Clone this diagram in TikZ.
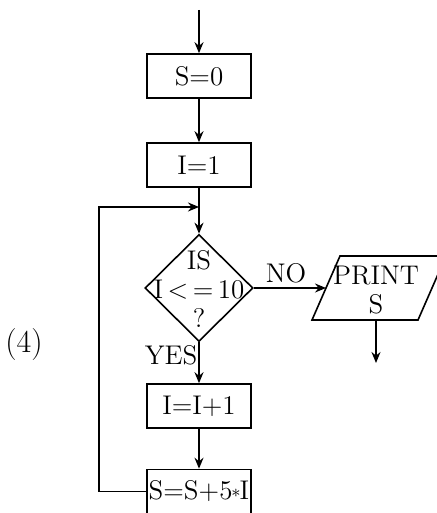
\documentclass[tikz,border=0pt]{standalone}
\usepackage{fontspec}
\usepackage{tikz}
\usetikzlibrary{arrows.meta,shapes.geometric}

\begin{document}
\begin{tikzpicture}[x=0.5pt,y=-0.5pt,line width=0.8pt,
        font=\fontsize{13.5}{14.5}\selectfont,
        b/.style={draw, minimum width=52pt, minimum height=22pt,
                        inner sep=0pt},
        d/.style={diamond, draw, minimum width=54pt,
                        minimum height=53.5pt, inner sep=0pt},
        a/.style={-{Stealth[length=5.5pt,width=4.5pt]}}]
    \useasboundingbox (0,0) rectangle (437,513);
    \coordinate (start) at (199,10);
    \node[b] (s0) at (199,76) {S=0};
    \node[b] (i1) at (199,165) {I=1};
    \node[d] (dec) at (199,288) {};
    \node[align=center, inner sep=0pt] (dectxt) at (199,289)
            {IS\\I\,<\,=\,10\\?};
    % parallelogram for output
    \draw (312,320) -- (340,256) -- (446,256) -- (418,320) -- cycle;
    \coordinate (printin) at (326,288);
    \node[align=center, inner sep=0pt] (print) at (376,290)
            {PRINT\\S};
    \coordinate (printout) at (376,320);
    \node[b] (inc) at (199,406) {I=I+1};
    \node[b] (sum) at (199,491.5)
            {S=S+5\kern-0.5pt\raisebox{1pt}{\small$*$}\kern-0.5pt I};
    \node (yes) at (171,355) {YES};
    \node (no) at (286,273) {NO};
    \node[font=\fontsize{16}{18}\selectfont] (lbl) at (24,345) {(4)};
    \coordinate (out) at (376,363);
    \coordinate (loop) at (99,207);
    \coordinate (join) at (199,207);
    % main flow
    \draw[a] (start) -- (s0);
    \draw[a] (s0) -- (i1);
    \draw[a] (i1) -- (dec);
    \draw[a] (dec) -- (inc);
    \draw[a] (inc) -- (sum);
    \draw[a] (dec.east) -- (printin);
    \draw[a] (printout) -- (out);
    % loop back
    \draw[a] (sum.west) -| (loop) -- (join);
\end{tikzpicture}
\end{document}
